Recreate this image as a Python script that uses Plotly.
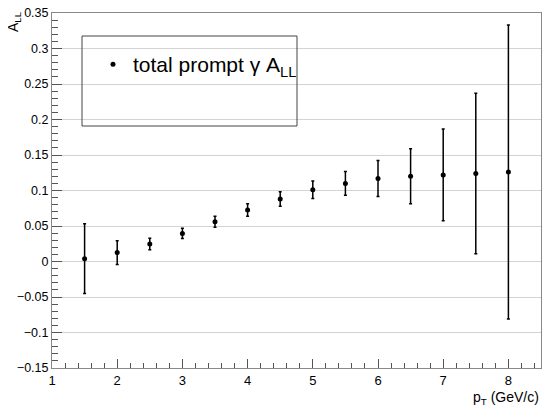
import plotly.graph_objects as go

pt = [1.5, 2.0, 2.5, 3.0, 3.5, 4.0, 4.5, 5.0, 5.5, 6.0, 6.5, 7.0, 7.5, 8.0]
all_vals = [0.004, 0.0126, 0.0246, 0.0395, 0.056, 0.0726, 0.088, 0.101, 0.110, 0.117, 0.120, 0.122, 0.124, 0.126]
all_err = [0.049, 0.0168, 0.0081, 0.0072, 0.0079, 0.0087, 0.0102, 0.0124, 0.0168, 0.0254, 0.0387, 0.0647, 0.113, 0.207]

y_tickvals = [-0.15, -0.1, -0.05, 0.0, 0.05, 0.1, 0.15, 0.2, 0.25, 0.3, 0.35]
y_ticktext = ["\u22120.15", "\u22120.1", "\u22120.05", "0", "0.05", "0.1", "0.15", "0.2", "0.25", "0.3", "0.35"]
x_tickvals = [1, 2, 3, 4, 5, 6, 7, 8]

FONT = "Liberation Sans, Arial, sans-serif"

# page body adds ~8px offset; figure is sized to fill the rest of the window
L, R, T, B = 44, 9, 5, 42
PW, PH = 489, 355

fig = go.Figure()
fig.add_trace(go.Scatter(
    x=pt, y=all_vals, mode="markers",
    name="total prompt γ A<sub>LL</sub>",
    marker=dict(color="black", size=5, symbol="circle"),
    error_y=dict(type="data", array=all_err, visible=True, color="black", thickness=1.5, width=1.5),
))

def px_x(page_x):
    return (page_x - 8 - L) / PW

def px_y(page_y):
    return (T + PH - (page_y - 8)) / PH

fig.update_layout(
    width=L + R + PW, height=T + B + PH,
    margin=dict(l=L, r=R, t=T, b=B, autoexpand=False),
    paper_bgcolor="white", plot_bgcolor="white",
    font=dict(family=FONT, size=13, color="black"),
    showlegend=True,
    legend=dict(x=px_x(93), y=px_y(44), xanchor="left", yanchor="top",
                bgcolor="rgba(0,0,0,0)", borderwidth=0,
                font=dict(size=21, family=FONT), itemsizing="trace"),
    xaxis=dict(range=[1, 8.5], tickmode="array", tickvals=x_tickvals, ticks="inside", ticklen=9, tickcolor="#555",
               showgrid=False, zeroline=False, showline=True, linecolor="#888", linewidth=1, mirror=True,
               minor=dict(dtick=0.2, tick0=1, ticks="inside", ticklen=5, tickcolor="#555", showgrid=False),
               tickfont=dict(size=13), automargin=False, ticklabeloverflow="allow"),
    yaxis=dict(range=[-0.15, 0.35], tickmode="array", tickvals=y_tickvals, ticktext=y_ticktext,
               ticks="inside", ticklen=10, tickcolor="#555",
               showgrid=True, gridcolor="#d3d3d3", gridwidth=1, zeroline=False,
               showline=True, linecolor="#888", linewidth=1, mirror=True,
               minor=dict(dtick=0.01, tick0=0, ticks="inside", ticklen=6, tickcolor="#555", showgrid=False),
               tickfont=dict(size=12.5), automargin=False, ticklabeloverflow="allow"),
    shapes=[dict(type="rect", xref="paper", yref="paper",
                 x0=px_x(82), x1=px_x(297), y0=px_y(126), y1=px_y(36),
                 line=dict(color="#444", width=1), fillcolor="rgba(0,0,0,0)")],
    annotations=[
        dict(text="A<sub>LL</sub>", xref="paper", yref="paper", x=px_x(14), y=px_y(9.5),
             xanchor="center", yanchor="top", textangle=-90, showarrow=False,
             font=dict(size=14, family=FONT)),
        dict(text="p<sub>T</sub> (GeV/c)", xref="paper", yref="paper", x=px_x(541), y=px_y(387),
             xanchor="right", yanchor="top", showarrow=False,
             font=dict(size=14, family=FONT)),
    ],
)

fig.write_html("out.html")
